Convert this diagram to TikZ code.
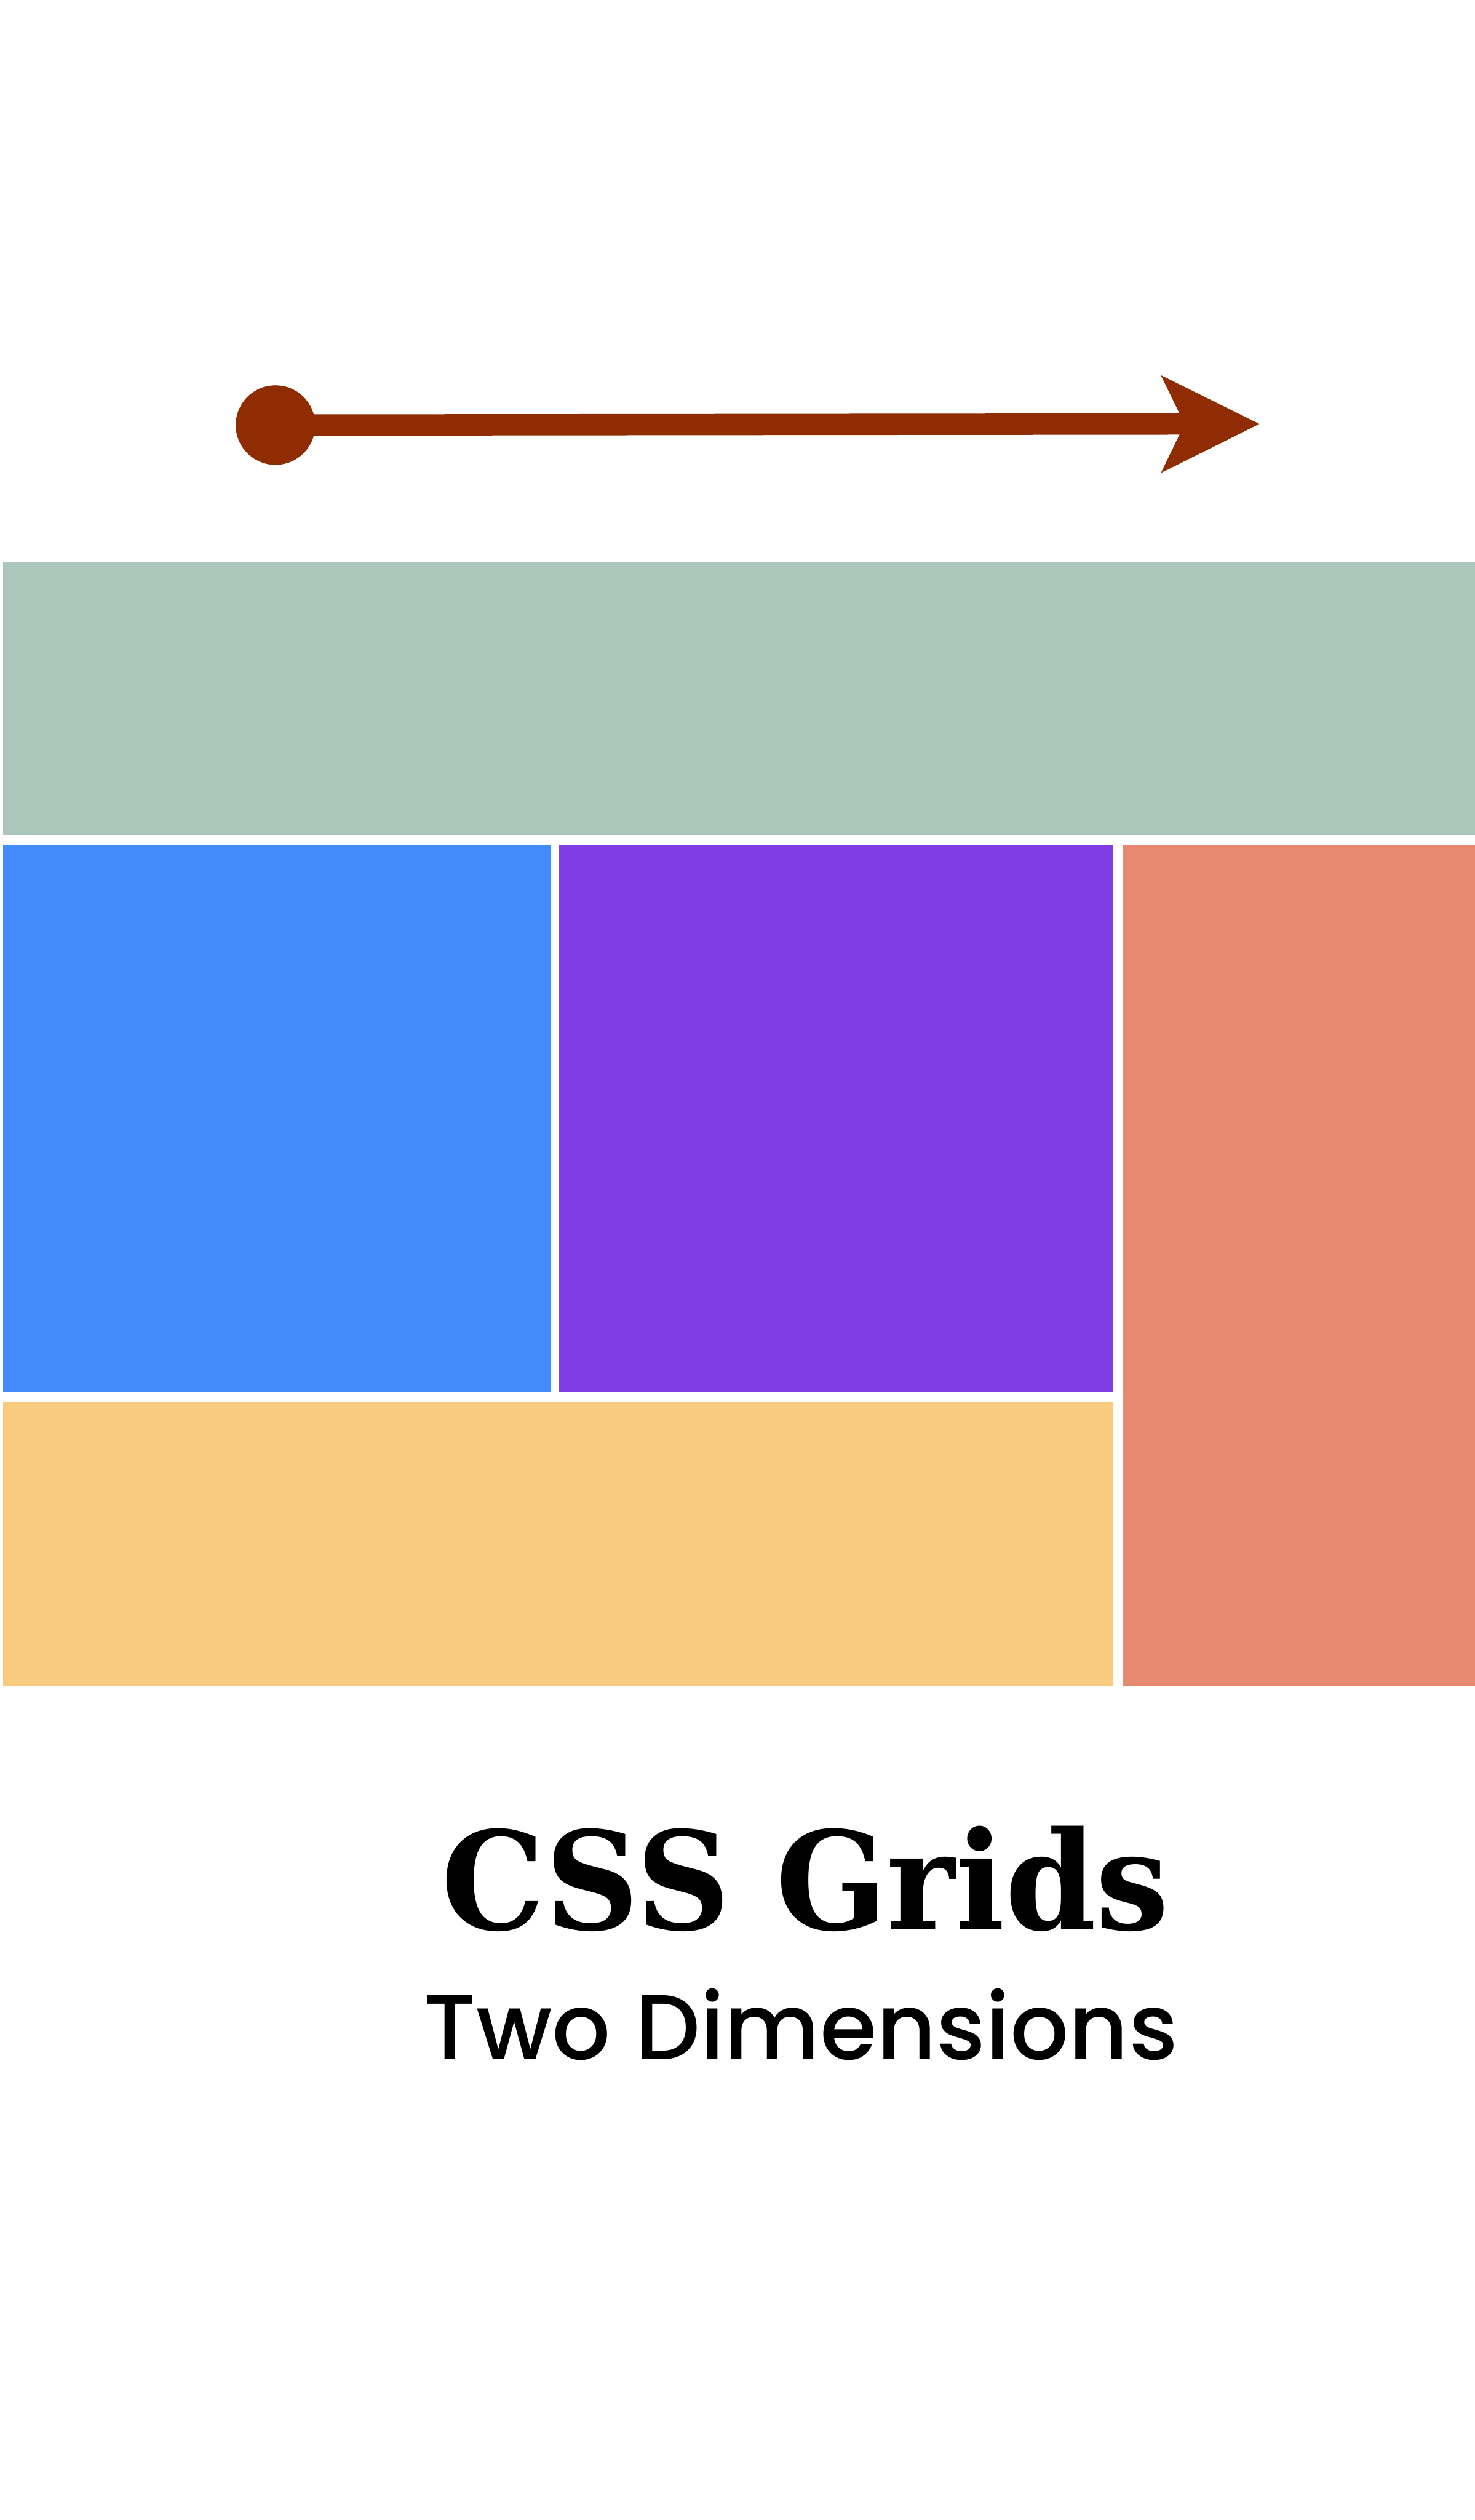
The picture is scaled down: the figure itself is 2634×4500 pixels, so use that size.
\documentclass[tikz,border=0pt]{standalone}
\usepackage{fontspec}
\newfontfamily\titlefont{DejaVu Serif}
\newfontfamily\subfont{Poppins}[UprightFont=* Medium]
\usetikzlibrary{arrows.meta}
\definecolor{arrowc}{HTML}{8F2C02}
\definecolor{greenc}{HTML}{ABC7BB}
\definecolor{bluec}{HTML}{438CFD}
\definecolor{purplec}{HTML}{7F3EE5}
\definecolor{redc}{HTML}{E78870}
\definecolor{yellowc}{HTML}{F8CB7E}
\tikzset{
  dotnode/.style={circle, fill=arrowc, inner sep=0pt, minimum size=14.2mm},
  arrowline/.style={draw=arrowc, line width=3.8mm, -{Stealth[length=17.3mm, width=16.8mm, inset=3.9mm, fill=arrowc]}},
  cell/.style={draw=none},
  titletext/.style={anchor=base west, inner sep=0pt, font=\titlefont\bfseries\fontsize{69.3pt}{80pt}\selectfont},
  subtext/.style={anchor=base west, inner sep=0pt, font=\subfont\fontsize{46.8pt}{56pt}\selectfont}
}
\begin{document}
\begin{tikzpicture}[x=0.1mm,y=-0.1mm]
\useasboundingbox (0,0) rectangle (2634,4500);
\fill[white] (0,0) rectangle (2634,4500);
% arrow
\node[dotnode] (start) at (492,759) {};
\coordinate (end) at (2250,757);
\draw[arrowline] (start.center) -- (end);
% grid
\fill[greenc, cell] (5,1004) rectangle (2634,1491);
\fill[bluec, cell] (5,1508) rectangle (984,2486);
\fill[purplec, cell] (999,1508) rectangle (1988,2486);
\fill[redc, cell] (2005,1508) rectangle (2634,3011);
\fill[yellowc, cell] (5,2503) rectangle (1988,3011);
% text
\node[titletext] (title) at (788,3446) {\scalebox{0.955}[1]{CSS Grids}};
\node[subtext] (sub) at (757,3678) {Two Dimensions};
\end{tikzpicture}
\end{document}
